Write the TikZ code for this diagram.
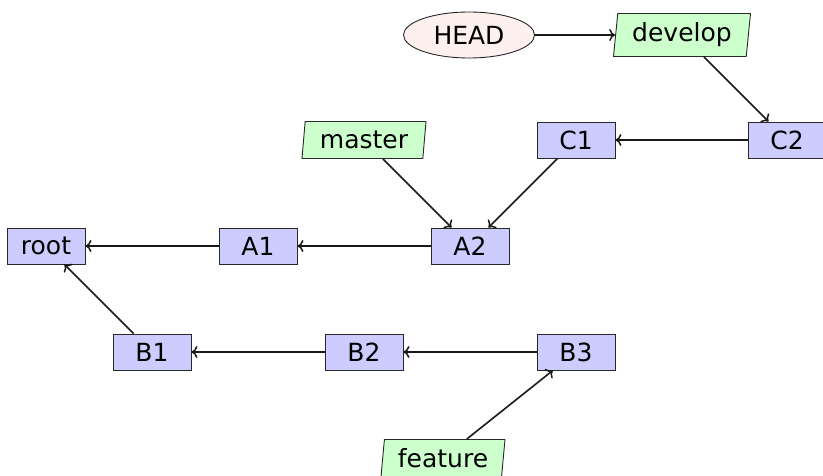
\documentclass[tikz,border=0pt]{standalone}
\usepackage{fontspec}
\setmainfont{DejaVu Sans}
\usetikzlibrary{shapes.geometric,arrows.meta}
\definecolor{commitfill}{RGB}{204,204,255}
\definecolor{branchfill}{RGB}{204,255,204}
\definecolor{headfill}{RGB}{253,240,238}
\definecolor{edgecol}{RGB}{40,40,40}
\begin{document}
\begin{tikzpicture}[x=1pt,y=-1pt,
  every node/.style={font=\fontsize{25}{28}\selectfont, inner sep=0pt},
  commit/.style={draw=edgecol, line width=0.9pt, fill=commitfill, rectangle, minimum width=78pt, minimum height=36pt},
  branch/.style={draw=edgecol, line width=0.9pt, fill=branchfill, trapezium, trapezium left angle=80, trapezium right angle=100, trapezium stretches body, minimum height=37pt},
  headnode/.style={draw=edgecol, line width=0.9pt, fill=headfill, ellipse, minimum width=131pt, minimum height=46pt},
  link/.style={-{To[length=6pt,width=12pt,line width=1.5pt]}, line width=1.6pt, black!90}]
\useasboundingbox (0,0) rectangle (823,476);
\node[headnode] (head) at (469,35) {HEAD};
\node[branch, minimum width=137pt, minimum height=43pt] (develop) at (682,35) {develop};
\node[branch, minimum width=124pt] (master) at (364,140) {master};
\node[branch, minimum width=124pt] (feature) at (443,458) {feature};
\node[commit] (c2) at (787,140) {C2};
\node[commit] (c1) at (576,140) {C1};
\node[commit] (a2) at (470,246) {A2};
\node[commit] (a1) at (258,246) {A1};
\node[commit] (root) at (46,246) {root};
\node[commit] (b1) at (152,352) {B1};
\node[commit] (b2) at (364,352) {B2};
\node[commit] (b3) at (576,352) {B3};
\draw[link] (head) -- (develop);
\draw[link] (develop) -- (c2);
\draw[link] (c2) -- (c1);
\draw[link] (c1) -- (a2);
\draw[link] (master) -- (a2);
\draw[link] (a2) -- (a1);
\draw[link] (a1) -- (root);
\draw[link] (b1) -- (root);
\draw[link] (b3) -- (b2);
\draw[link] (b2) -- (b1);
\draw[link] (feature) -- (b3);
\end{tikzpicture}
\end{document}
